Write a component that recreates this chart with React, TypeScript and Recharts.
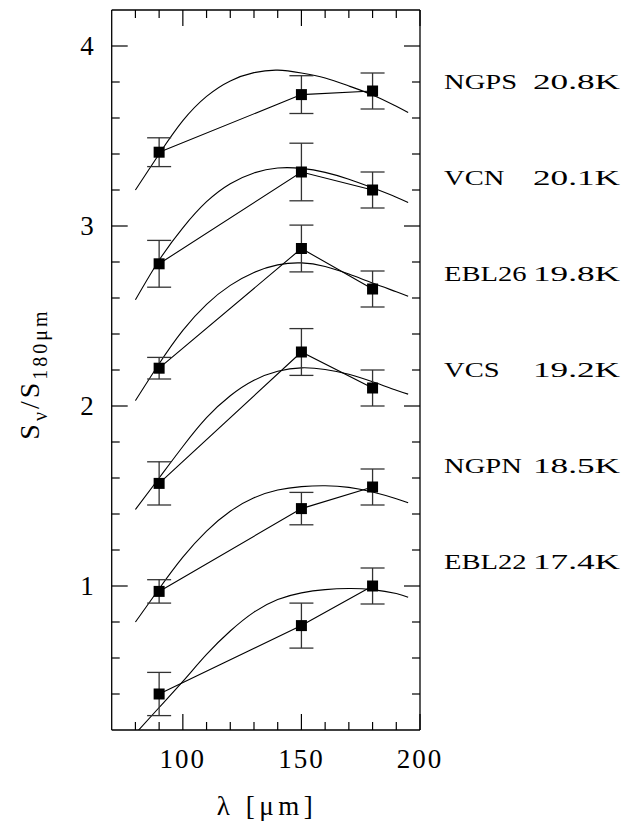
import React from 'react';
import { ComposedChart, Line, Scatter, XAxis, YAxis, ErrorBar, Customized } from 'recharts';

// modified blackbody fits (offset per source)
const fitLambda = [80, 90, 100, 110, 120, 130, 140, 150, 160, 170, 180, 190, 195];
const fitNGPS = [3.2, 3.4, 3.585, 3.72, 3.806, 3.852, 3.866, 3.85, 3.822, 3.778, 3.728, 3.665, 3.63];
const fitVCN = [2.59, 2.81, 2.99, 3.135, 3.235, 3.295, 3.322, 3.32, 3.298, 3.26, 3.212, 3.16, 3.13];
const fitEBL26 = [2.03, 2.235, 2.42, 2.565, 2.67, 2.742, 2.784, 2.795, 2.775, 2.733, 2.683, 2.635, 2.61];
const fitVCS = [1.425, 1.6, 1.775, 1.935, 2.057, 2.143, 2.193, 2.212, 2.203, 2.176, 2.135, 2.088, 2.066];
const fitNGPN = [0.8, 0.985, 1.16, 1.305, 1.415, 1.49, 1.533, 1.552, 1.557, 1.548, 1.522, 1.485, 1.462];
const fitEBL22 = [0.18, 0.325, 0.47, 0.62, 0.75, 0.855, 0.925, 0.962, 0.98, 0.986, 0.98, 0.958, 0.937];

// measured points
const obsLambda = [90, 150, 180];
const obsNGPS = [3.41, 3.73, 3.75];
const errNGPS = [0.08, 0.105, 0.1];
const obsVCN = [2.79, 3.3, 3.2];
const errVCN = [0.13, 0.16, 0.1];
const obsEBL26 = [2.21, 2.875, 2.65];
const errEBL26 = [0.06, 0.13, 0.1];
const obsVCS = [1.57, 2.3, 2.1];
const errVCS = [0.12, 0.13, 0.1];
const obsNGPN = [0.97, 1.43, 1.55];
const errNGPN = [0.065, 0.09, 0.1];
const obsEBL22 = [0.4, 0.78, 1.0];
const errEBL22 = [0.12, 0.125, 0.1];

const sourceNames = ['NGPS', 'VCN', 'EBL26', 'VCS', 'NGPN', 'EBL22'];
const sourceTemps = ['20.8K', '20.1K', '19.8K', '19.2K', '18.5K', '17.4K'];

const xTicks = [80, 90, 100, 110, 120, 130, 140, 150, 160, 170, 180, 190, 200];
const yTicks = [0.4, 0.6, 0.8, 1, 1.2, 1.4, 1.6, 1.8, 2, 2.2, 2.4, 2.6, 2.8, 3, 3.2, 3.4, 3.6, 3.8, 4];

const series = [
  { fit: fitNGPS, obs: obsNGPS, err: errNGPS },
  { fit: fitVCN, obs: obsVCN, err: errVCN },
  { fit: fitEBL26, obs: obsEBL26, err: errEBL26 },
  { fit: fitVCS, obs: obsVCS, err: errVCS },
  { fit: fitNGPN, obs: obsNGPN, err: errNGPN },
  { fit: fitEBL22, obs: obsEBL22, err: errEBL22 },
];

const FONT = '"Liberation Serif", "Times New Roman", serif';
const INK = '#000';

const isMajorY = (v: number) => Math.abs(v - Math.round(v)) < 1e-6;

const BottomTick = ({ x, y, payload }: any) => {
  const major = payload.value % 50 === 0;
  return (
    <g>
      <line x1={x} x2={x} y1={y} y2={y - (major ? 16 : 8)} stroke={INK} strokeWidth={1.2} />
      {major && (
        <text x={x} y={y + 38} textAnchor="middle" fontSize={27} fontFamily={FONT} letterSpacing={2} fill={INK}>
          {payload.value}
        </text>
      )}
    </g>
  );
};

const TopTick = ({ x, y, payload }: any) => {
  const major = payload.value % 50 === 0;
  return <line x1={x} x2={x} y1={y} y2={y + (major ? 16 : 8)} stroke={INK} strokeWidth={1.2} />;
};

const LeftTick = ({ x, y, payload }: any) => {
  const major = isMajorY(payload.value);
  return (
    <g>
      <line x1={x} x2={x + (major ? 16 : 8)} y1={y} y2={y} stroke={INK} strokeWidth={1.2} />
      {major && (
        <text x={x - 18} y={y} dy="0.34em" textAnchor="end" fontSize={27} fontFamily={FONT} fill={INK}>
          {Math.round(payload.value)}
        </text>
      )}
    </g>
  );
};

const RightTick = ({ x, y, payload }: any) => {
  const major = isMajorY(payload.value);
  return <line x1={x} x2={x - (major ? 16 : 8)} y1={y} y2={y} stroke={INK} strokeWidth={1.2} />;
};

const Square = ({ cx, cy }: any) => <rect x={cx - 5.5} y={cy - 5.5} width={11} height={11} fill={INK} />;

const Annotations = () => (
  <g fontFamily={FONT} fill={INK}>
    {sourceNames.map((name, i) => (
      <g key={name}>
        <g transform={`translate(444 ${88.8 + i * 96}) scale(1.33 1)`}>
          <text x={0} y={0} fontSize={21.5}>
            {name}
          </text>
        </g>
        <text x={533} y={88.8 + i * 96} fontSize={21.5} textLength={87} lengthAdjust="spacingAndGlyphs">
          {sourceTemps[i]}
        </text>
      </g>
    ))}
    <text x={267} y={815} textAnchor="middle" fontSize={27} letterSpacing={4.5}>
      λ [μm]
    </text>
    <text transform="rotate(-90 39 374)" x={39} y={374} textAnchor="middle" fontSize={28} letterSpacing={3}>
      S<tspan dy={8} fontSize={20}>ν</tspan>
      <tspan dy={-8}>/S</tspan>
      <tspan dy={8} fontSize={20}>180μm</tspan>
    </text>
  </g>
);

export default function App() {
  return (
    <div style={{ position: 'absolute', left: 0, top: 0, background: '#fff' }}>
      <ComposedChart width={631} height={822} margin={{ top: 8, right: 201, bottom: 32, left: 51.7 }}>
        <XAxis
          xAxisId="b"
          dataKey="x"
          type="number"
          domain={[70, 200]}
          allowDataOverflow
          ticks={xTicks}
          interval={0}
          tickSize={0}
          tickMargin={0}
          tickLine={false}
          tick={BottomTick}
          height={60}
          axisLine={{ stroke: INK, strokeWidth: 1.3 }}
        />
        <XAxis
          xAxisId="t"
          orientation="top"
          dataKey="x"
          type="number"
          domain={[70, 200]}
          allowDataOverflow
          ticks={xTicks}
          interval={0}
          tickSize={0}
          tickMargin={0}
          tickLine={false}
          tick={TopTick}
          height={2}
          axisLine={{ stroke: INK, strokeWidth: 1.3 }}
        />
        <YAxis
          yAxisId="l"
          type="number"
          domain={[0.2, 4.2]}
          allowDataOverflow
          ticks={yTicks}
          interval={0}
          tickSize={0}
          tickMargin={0}
          tickLine={false}
          tick={LeftTick}
          width={60}
          axisLine={{ stroke: INK, strokeWidth: 1.3 }}
        />
        <YAxis
          yAxisId="r"
          orientation="right"
          type="number"
          domain={[0.2, 4.2]}
          allowDataOverflow
          ticks={yTicks}
          interval={0}
          tickSize={0}
          tickMargin={0}
          tickLine={false}
          tick={RightTick}
          width={10}
          axisLine={{ stroke: INK, strokeWidth: 1.3 }}
        />
        {series.map((s, i) => (
          <Line
            key={`fit${i}`}
            xAxisId="b"
            yAxisId="l"
            data={fitLambda.map((x, j) => ({ x, y: s.fit[j] }))}
            dataKey="y"
            type="natural"
            stroke={INK}
            strokeWidth={1.1}
            dot={false}
            activeDot={false}
            isAnimationActive={false}
          />
        ))}
        {series.map((s, i) => (
          <Scatter
            key={`obs${i}`}
            xAxisId="b"
            yAxisId="l"
            data={obsLambda.map((x, j) => ({ x, y: s.obs[j], err: s.err[j] }))}
            dataKey="y"
            line={{ stroke: INK, strokeWidth: 1.1 }}
            lineType="joint"
            shape={Square}
            isAnimationActive={false}
          >
            <ErrorBar dataKey="err" direction="y" width={12} stroke="#333" strokeWidth={1.3} isAnimationActive={false} />
          </Scatter>
        ))}
        <Customized component={Annotations} />
      </ComposedChart>
    </div>
  );
}
